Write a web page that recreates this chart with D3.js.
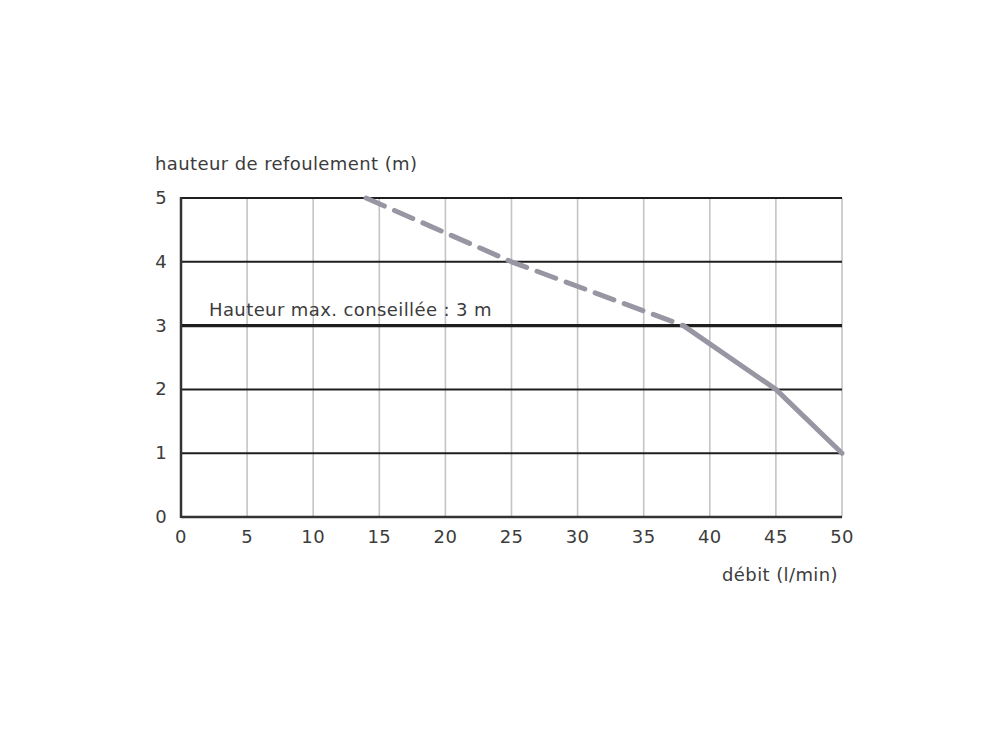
<!DOCTYPE html>
<html><head><meta charset="utf-8">
<script src="https://cdn.jsdelivr.net/npm/d3@7"></script>
<style>body{margin:0;background:#fff;} svg{display:block;} text{font-family:"DejaVu Sans",sans-serif;fill:#3c3c3c;letter-spacing:0.4px;}</style>
</head><body>
<svg id="c" width="1000" height="748"></svg>
<script>
const xTicks = [0,5,10,15,20,25,30,35,40,45,50];
const yTicks = [0,1,2,3,4,5];
const dashedX = [14,25,38];
const dashedY = [5,4,3];
const solidX = [38,45,50];
const solidY = [3,2,1];
const recommendedHeight = 3;
const yTitle = "hauteur de refoulement (m)";
const xTitle = "débit (l/min)";
const refLabel = "Hauteur max. conseillée : 3 m";

const svg = d3.select("#c");
const x = d3.scaleLinear().domain([0,50]).range([181,842]);
const y = d3.scaleLinear().domain([0,5]).range([517,198]);

svg.append("g").selectAll("line").data(xTicks.filter(d=>d>0)).join("line")
  .attr("x1",d=>x(d)).attr("x2",d=>x(d)).attr("y1",y(5)).attr("y2",y(0))
  .attr("stroke","#c4c4c4").attr("stroke-width",1.6);
svg.append("g").selectAll("line").data(yTicks.filter(d=>d>0)).join("line")
  .attr("x1",x(0)).attr("x2",x(50)).attr("y1",d=>y(d)).attr("y2",d=>y(d))
  .attr("stroke","#1e1e1e").attr("stroke-width",d=>d===recommendedHeight?3.2:2);
svg.append("line").attr("x1",x(0)).attr("x2",x(0)).attr("y1",y(5)-1).attr("y2",y(0)+1)
  .attr("stroke","#333").attr("stroke-width",2.5);
svg.append("line").attr("x1",x(0)).attr("x2",x(50)).attr("y1",y(0)).attr("y2",y(0))
  .attr("stroke","#333").attr("stroke-width",2.5);

svg.append("g").selectAll("text").data(yTicks).join("text")
  .attr("x",167).attr("y",d=>y(d)+6).attr("text-anchor","end")
  .attr("font-size",18).text(d=>d);
svg.append("g").selectAll("text").data(xTicks).join("text")
  .attr("x",d=>x(d)).attr("y",543).attr("text-anchor","middle")
  .attr("font-size",18).text(d=>d);

svg.append("text").attr("x",155).attr("y",170).attr("font-size",18).text(yTitle);
svg.append("text").attr("x",838).attr("y",581).attr("text-anchor","end").attr("font-size",18).text(xTitle);
svg.append("text").attr("x",209).attr("y",316).attr("font-size",18).text(refLabel);

const line = d3.line().x(d=>x(d[0])).y(d=>y(d[1]));
svg.append("path").attr("d",line(dashedX.map((v,i)=>[v,dashedY[i]])))
  .attr("fill","none").attr("stroke","#9896a3").attr("stroke-width",5)
  .attr("stroke-dasharray","20,11").attr("stroke-linecap","round").attr("stroke-linejoin","round");
svg.append("path").attr("d",line(solidX.map((v,i)=>[v,solidY[i]])))
  .attr("fill","none").attr("stroke","#9896a3").attr("stroke-width",5)
  .attr("stroke-linecap","round").attr("stroke-linejoin","round");
</script>
</body></html>
